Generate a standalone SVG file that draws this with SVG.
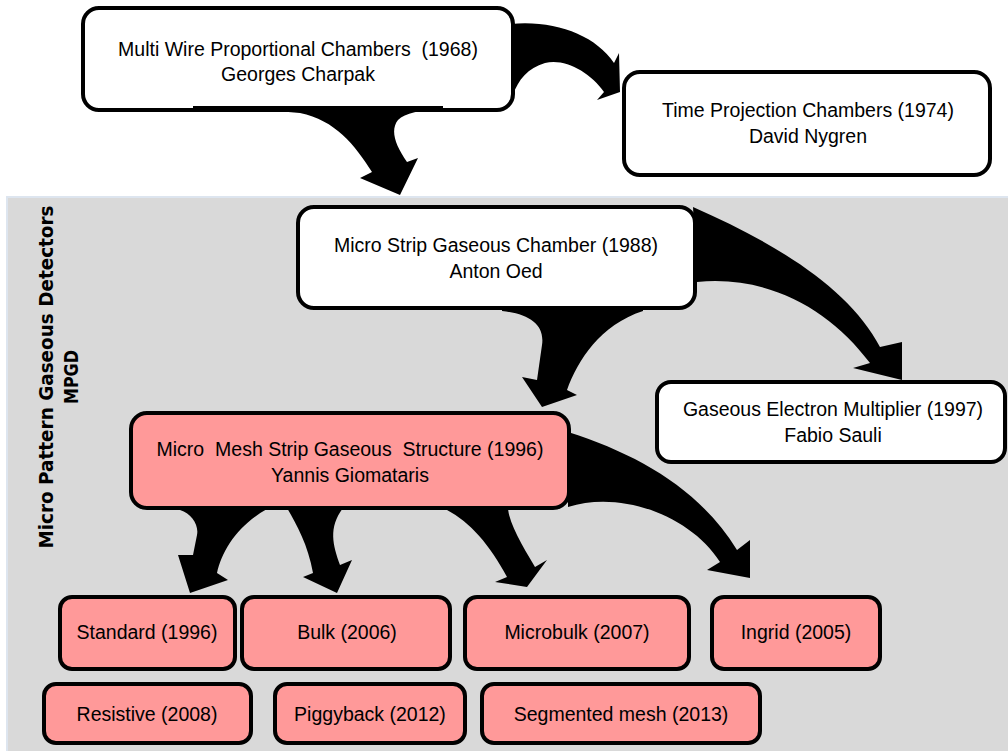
<svg xmlns="http://www.w3.org/2000/svg" width="1008" height="751" viewBox="0 0 1008 751">
<style>
.box{fill:#ffffff;stroke:#000;stroke-width:4}
.pink{fill:#ff9999;stroke:#000;stroke-width:4}
.t{font-family:"Liberation Sans",Arial,sans-serif;font-size:19.5px;fill:#000;text-anchor:middle;white-space:pre}
.v{font-family:"DejaVu Sans",sans-serif;font-size:20px;font-weight:bold;fill:#000;text-anchor:middle}
.arrow{fill:#000;stroke:none}
</style>
<rect x="0" y="0" width="1008" height="751" fill="#ffffff"/>
<g id="panel">
<rect x="7" y="197" width="1003" height="556" fill="#d9d9d9" stroke="#dde5ef" stroke-width="2"/>
<text class="v" transform="translate(53,377) rotate(-90)" textLength="343" lengthAdjust="spacingAndGlyphs">Micro Pattern Gaseous Detectors</text>
<text class="v" transform="translate(78,377) rotate(-90)" style="font-size:19px" textLength="54" lengthAdjust="spacingAndGlyphs">MPGD</text>
</g>
<g id="mwpc">
<rect class="box" x="83" y="8" width="430" height="102" rx="16"/>
<text class="t" x="298" y="56" xml:space="preserve">Multi Wire Proportional Chambers  (1968)</text>
<text class="t" x="298" y="81">Georges Charpak</text>
</g>
<g id="tpc">
<rect class="box" x="624" y="72" width="366" height="103" rx="16"/>
<text class="t" x="808" y="117">Time Projection Chambers (1974)</text>
<text class="t" x="808" y="143">David Nygren</text>
</g>
<g id="msgc">
<rect class="box" x="298" y="207" width="397" height="101" rx="16"/>
<text class="t" x="496" y="252">Micro Strip Gaseous Chamber (1988)</text>
<text class="t" x="496" y="278">Anton Oed</text>
</g>
<g id="gem">
<rect class="box" x="657" y="382" width="348" height="80" rx="14"/>
<text class="t" x="833" y="416">Gaseous Electron Multiplier (1997)</text>
<text class="t" x="833" y="442">Fabio Sauli</text>
</g>
<g id="micromegas">
<rect class="pink" x="131" y="413" width="438" height="95" rx="16"/>
<text class="t" x="350" y="456" xml:space="preserve">Micro  Mesh Strip Gaseous  Structure (1996)</text>
<text class="t" x="350" y="482">Yannis Giomataris</text>
</g>
<g id="standard">
<rect class="pink" x="60" y="597" width="175" height="72" rx="12"/>
<text class="t" x="147" y="639">Standard (1996)</text>
</g>
<g id="bulk">
<rect class="pink" x="242" y="597" width="208" height="72" rx="12"/>
<text class="t" x="347" y="639">Bulk (2006)</text>
</g>
<g id="microbulk">
<rect class="pink" x="465" y="597" width="224" height="72" rx="12"/>
<text class="t" x="577" y="639">Microbulk (2007)</text>
</g>
<g id="ingrid">
<rect class="pink" x="712" y="597" width="168" height="72" rx="12"/>
<text class="t" x="796" y="639">Ingrid (2005)</text>
</g>
<g id="resistive">
<rect class="pink" x="44" y="684" width="207" height="59" rx="12"/>
<text class="t" x="147" y="721">Resistive (2008)</text>
</g>
<g id="piggyback">
<rect class="pink" x="275" y="684" width="190" height="59" rx="12"/>
<text class="t" x="370" y="721">Piggyback (2012)</text>
</g>
<g id="segmented">
<rect class="pink" x="482" y="684" width="278" height="59" rx="12"/>
<text class="t" x="621" y="721">Segmented mesh (2013)</text>
</g>
<g id="connectors">
<path class="arrow" d="M193,106 L443,106 L443,109 C420,110 405,113 398,120 C390,130 395,145 407,162 L418,158 L400,195 L360,178 L372,172 C355,145 335,120 300,113 C260,109 220,109 193,109 Z"/>
<path class="arrow" d="M511,24 C555,20 595,35 614,63 L619,53 L620,92 L597,100 L604,92 C590,72 565,58 545,63 C528,68 518,80 513,95 Z"/>
<path class="arrow" d="M502,310 L643,310 L643,311 C600,325 578,360 567,390 L577,395 L542,407 L522,377 L537,380 L542,345 C545,325 530,314 502,311 Z"/>
<path class="arrow" d="M693,207 C780,245 850,290 880,347 L902,342 L902,380 L853,368 L870,363 C830,310 770,275 697,282 Z"/>
<path class="arrow" d="M180,509 L267,509 C238,525 222,550 217,573 L228,580 L190,593 L178,555 L193,555 L197,535 C199,525 192,514 180,510 Z"/>
<path class="arrow" d="M287,508 L343,508 C328,528 333,545 340,565 L352,560 L337,593 L303,577 L313,573 C308,545 297,525 287,508 Z"/>
<path class="arrow" d="M447,509 L508,509 C510,525 522,545 535,567 L547,560 L527,587 L495,582 L507,577 C490,545 470,522 447,510 Z"/>
<path class="arrow" d="M568,432 C640,455 700,490 737,550 L750,540 L750,578 L707,570 L720,562 C690,515 620,490 568,507 Z"/>
</g>
</svg>
